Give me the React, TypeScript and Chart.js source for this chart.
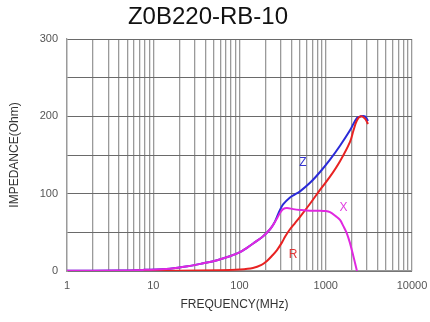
import React, { useEffect, useRef } from "react";
import { Chart, registerables } from "chart.js";

Chart.register(...registerables);

// ---- data (frequency in MHz, impedance in Ohm) ----
const xFreq = [1, 4, 8, 15.6, 25, 38, 55, 77, 100, 122, 150, 188, 226, 250, 272, 295, 320, 355, 420, 503, 660, 858, 1000, 1120, 1300, 1463, 1600, 1750, 1900, 2050, 2200, 2300];
const xVals = [0.3, 0.5, 1.5, 3, 6, 10, 14, 19, 24, 30, 37, 45, 54, 61, 68, 75, 80, 81.5, 80, 79, 78, 78, 77.5, 76, 71, 66, 58, 49, 37, 23, 9, 0];

const rFreq = [1, 20, 59, 100, 143, 180, 208, 240, 272, 311, 340, 385, 440, 503, 657, 858, 1120, 1463, 1911, 2100, 2303, 2550, 2850, 3090];
const rVals = [0, 0.3, 1, 2, 4, 8, 13, 20, 27, 37, 45, 54, 62, 70, 87, 105, 122, 142, 167, 182, 195, 200, 197, 190];

const zFreq = [1, 4, 8, 15.6, 25, 38, 55, 77, 100, 122, 150, 188, 226, 250, 272, 295, 320, 385, 440, 503, 657, 858, 1120, 1463, 1911, 2303, 2550, 2850, 3090];
const zVals = [0.3, 0.5, 1.5, 3, 6, 10, 14, 19, 24, 30, 37, 45, 54, 61, 70, 79, 86, 95, 99, 103, 114, 128, 144, 162, 182, 198, 200, 200, 194];

const decades = [1, 10, 100, 1000];
const multiples = [1, 2, 3, 4, 5, 6, 7, 8, 9];
const xMax = 10000;
const xTickLabels = [1, 10, 100, 1000, 10000];
const yTickLabels = [0, 100, 200, 300];

const seriesLabels = [
  { text: "Z", x: 545, y: 140, color: "#3535d0" },
  { text: "X", x: 1607, y: 82, color: "#e040e0" },
  { text: "R", x: 417, y: 21, color: "#e03535" },
];

const FONT = "'Liberation Sans', Arial, sans-serif";

function pts(f: number[], v: number[]) {
  return f.map((x, i) => ({ x, y: v[i] }));
}

export default function App() {
  const ref = useRef<HTMLCanvasElement>(null);
  useEffect(() => {
    if (!ref.current) return;
    const gridValues: number[] = [];
    decades.forEach((d) => multiples.forEach((m) => gridValues.push(d * m)));
    gridValues.push(xMax);

    const textPlugin = {
      id: "texts",
      afterDraw(chart: any) {
        const ctx = chart.ctx;
        const ca = chart.chartArea;
        const xs = chart.scales.x;
        const ys = chart.scales.y;
        ctx.save();
        ctx.fillStyle = "#111";
        ctx.font = `24px ${FONT}`;
        ctx.textAlign = "center";
        ctx.textBaseline = "middle";
        ctx.fillText("Z0B220-RB-10", 208, 17);
        ctx.fillStyle = "#333";
        ctx.font = `12px ${FONT}`;
        ctx.fillText("FREQUENCY(MHz)", (ca.left + ca.right) / 2 - 5, 305);
        ctx.save();
        ctx.translate(15, (ca.top + ca.bottom) / 2);
        ctx.rotate(-Math.PI / 2);
        ctx.fillText("IMPEDANCE(Ohm)", 0, 0);
        ctx.restore();
        ctx.font = `12px ${FONT}`;
        seriesLabels.forEach((l) => {
          ctx.fillStyle = l.color;
          ctx.fillText(l.text, xs.getPixelForValue(l.x), ys.getPixelForValue(l.y));
        });
        ctx.restore();
      },
    };

    const common = { borderWidth: 2, pointRadius: 0, tension: 0.35 };

    const chart = new Chart(ref.current, {
      type: "line",
      data: {
        datasets: [
          { label: "Z", data: pts(zFreq, zVals), borderColor: "#2a2ad8", order: 3, ...common },
          { label: "R", data: pts(rFreq, rVals), borderColor: "#e82222", order: 2, ...common },
          { label: "X", data: pts(xFreq, xVals), borderColor: "#e028e0", order: 1, ...common },
        ],
      },
      options: {
        animation: false,
        responsive: false,
        layout: { padding: { left: 0, right: 18, top: 39, bottom: 0 } },
        plugins: { legend: { display: false }, tooltip: { enabled: false }, title: { display: false } },
        scales: {
          x: {
            type: "logarithmic",
            min: 1,
            max: xMax,
            afterBuildTicks: (scale: any) => {
              scale.ticks = gridValues.map((v) => ({ value: v }));
            },
            afterFit: (scale: any) => {
              scale.height = 51;
              scale.paddingLeft = 0;
              scale.paddingRight = 0;
            },
            ticks: {
              autoSkip: false,
              maxRotation: 0,
              padding: 8,
              color: "#555",
              font: { family: FONT, size: 11 },
              callback: (v: any) => (xTickLabels.includes(Number(v)) ? String(v) : ""),
            },
            grid: { color: "#9a9a9a", lineWidth: 1.3, drawTicks: false },
            border: { color: "#9a9a9a", width: 1.3 },
          },
          y: {
            type: "linear",
            min: 0,
            max: 300,
            ticks: {
              stepSize: 50,
              padding: 9,
              color: "#555",
              font: { family: FONT, size: 11 },
              callback: (v: any) => (yTickLabels.includes(Number(v)) ? String(v) : ""),
            },
            afterFit: (scale: any) => {
              scale.width = 67;
              scale.paddingTop = 0;
              scale.paddingBottom = 0;
            },
            grid: { color: "#6a6a6a", lineWidth: 1, drawTicks: false },
            border: { color: "#9a9a9a", width: 1.3 },
          },
        },
      },
      plugins: [textPlugin],
    } as any);
    return () => chart.destroy();
  }, []);
  return (
    <div style={{ position: "absolute", left: 0, top: 0, width: 430, height: 322, background: "#fff" }}>
      <canvas ref={ref} width={430} height={322} style={{ width: 430, height: 322 }} />
    </div>
  );
}
